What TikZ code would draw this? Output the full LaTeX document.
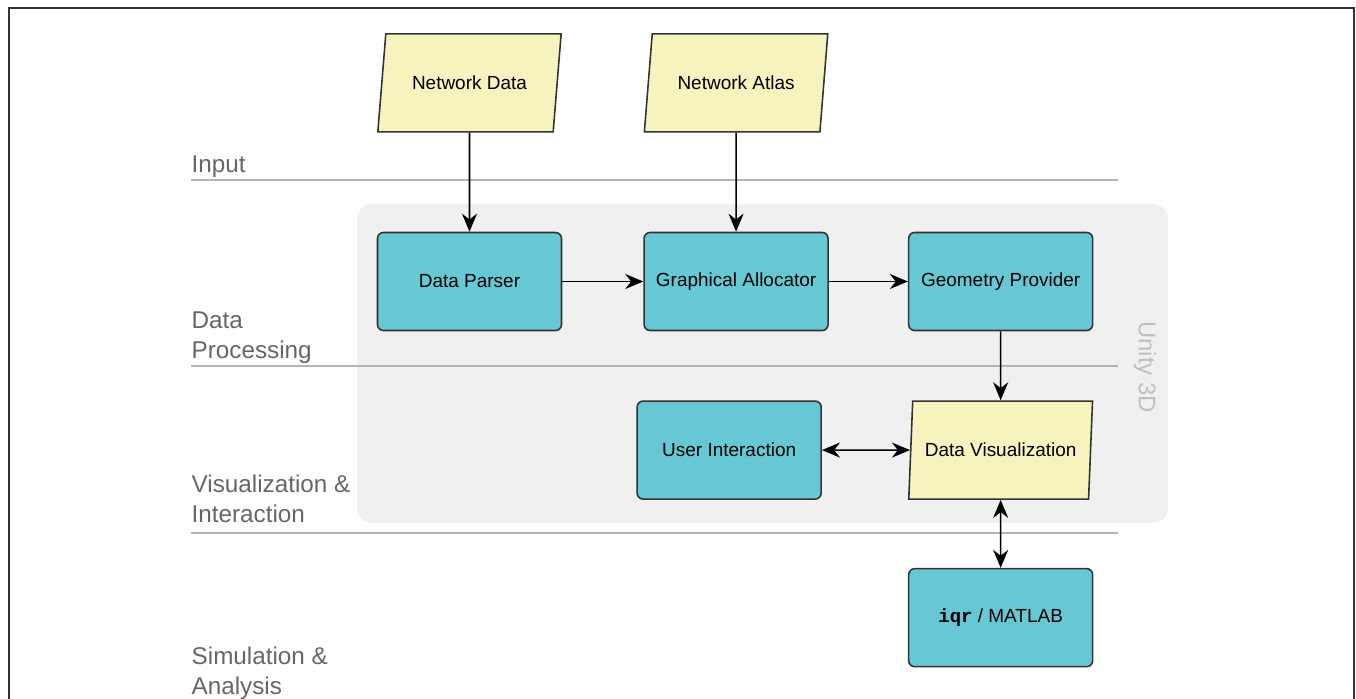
\documentclass[tikz,border=0pt]{standalone}
\usepackage{fontspec}
\setmainfont{Liberation Sans}
\setmonofont{Liberation Mono}
\usepackage{tikz}
\usetikzlibrary{arrows.meta, shapes, positioning}

\definecolor{boxcyan}{HTML}{67C8D5}
\definecolor{paleyellow}{HTML}{F7F3BF}
\definecolor{panelgray}{HTML}{F0F0F0}
\definecolor{rulegray}{HTML}{B4B4B4}
\definecolor{labelgray}{HTML}{666666}
\definecolor{edgegray}{HTML}{333333}

\begin{document}
\begin{tikzpicture}[>={Stealth[length=1.8mm, width=1.5mm]},
  process/.style={draw=edgegray, line width=0.45pt, fill=boxcyan,
    rounded corners=0.6mm, minimum width=1.84cm, minimum height=0.98cm,
    font=\fontsize{5.4pt}{6.5pt}\selectfont},
  datanode/.style={draw=edgegray, line width=0.45pt, fill=paleyellow,
    trapezium, trapezium stretches=true, trapezium left angle=80,
    trapezium right angle=100, minimum width=1.84cm, minimum height=0.98cm,
    font=\fontsize{5.4pt}{6.5pt}\selectfont},
  lanelabel/.style={anchor=base west, inner sep=0pt, align=left,
    text=labelgray, font=\fontsize{6.9pt}{8.8pt}\selectfont},
  flow/.style={line width=0.45pt, ->}]
  \useasboundingbox (0,0) rectangle (13.56,-6.99);

  % frame and unity panel
  \draw[edgegray, line width=0.7pt] (0.09,-6.99) -- (0.09,-0.08) -- (13.54,-0.08) -- (13.54,-6.99);
  \fill[panelgray, rounded corners=0.15cm] (3.57,-2.04) rectangle (11.68,-5.23);
  \node[rotate=-90, text=rulegray!85!white, font=\fontsize{6.8pt}{8pt}\selectfont]
    (unity) at (11.45,-3.67) {Unity 3D};

  % lanes
  \foreach \y in {-1.80,-3.66,-5.33}
    \draw[rulegray, line width=0.6pt] (1.91,\y) -- (11.18,\y);
  \node[lanelabel] (input) at (1.91,-1.73) {Input};
  \node[lanelabel] (processing) at (1.91,-3.59) {Data\\Processing};
  \node[lanelabel] (visual) at (1.91,-5.23) {Visualization \&\\Interaction};
  \node[lanelabel] (simulation) at (1.91,-6.95) {Simulation \&\\Analysis};

  % blocks
  \node[process] (parser) at (4.695,-2.815) {Data Parser};
  \node[process, right=0.81cm of parser] (allocator) {Graphical Allocator};
  \node[process, right=0.79cm of allocator] (geometry) {Geometry Provider};
  \node[datanode, above=0.99cm of parser] (netdata) {Network Data};
  \node[datanode, above=0.99cm of allocator] (atlas) {Network Atlas};
  \node[datanode, trapezium left angle=84, trapezium right angle=96,
    below=0.69cm of geometry] (vis) {Data Visualization};
  \node[process, left=0.88cm of vis] (interact) {User Interaction};
  \node[process, below=0.68cm of vis] (iqr) {\textbf{\texttt{iqr}} / MATLAB};

  \draw[flow] (netdata) -- (parser);
  \draw[flow] (atlas) -- (allocator);
  \draw[flow] (parser) -- (allocator);
  \draw[flow] (allocator) -- (geometry);
  \draw[flow] (geometry) -- (vis);
  \draw[flow, <->] (interact) -- (vis);
  \draw[flow, <->] (vis) -- (iqr);
\end{tikzpicture}
\end{document}
